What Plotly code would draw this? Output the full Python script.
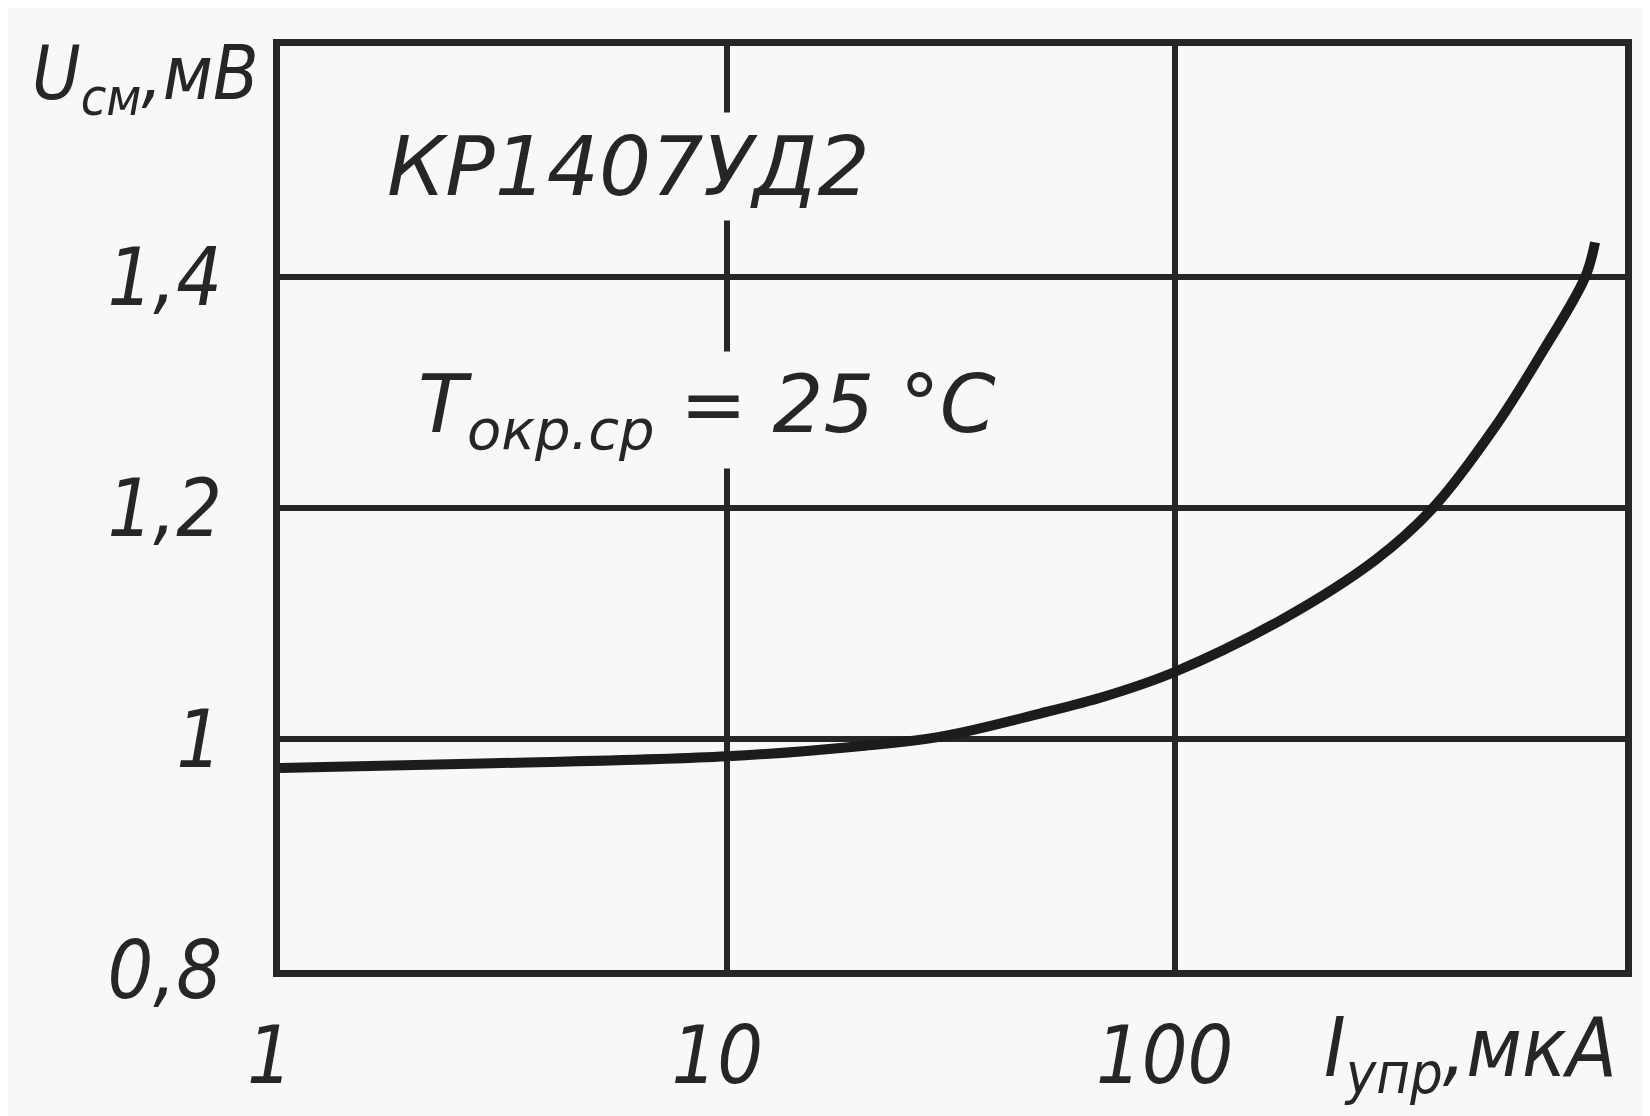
import plotly.graph_objects as go

# Offset voltage vs. control current, KP1407UD2 at 25 °C
current_ua = [1, 3, 10, 20, 30, 50, 70, 100, 173, 281, 378, 520, 664, 828, 871]
offset_mv = [0.975, 0.979, 0.985, 0.994, 1.002, 1.022, 1.037, 1.058, 1.103, 1.155, 1.2, 1.27, 1.335, 1.40, 1.43]

x_ticks = [1, 10, 100]
x_ticktext = ["1", "10", "100"]
y_ticks = [0.8, 1.0, 1.2, 1.4]
y_ticktext = ["0,8", "1", "1,2", "1,4"]

INK = "#262626"
BG = "#f8f8f8"
FONT = "DejaVu Sans Condensed, DejaVu Sans, sans-serif"
WIDE = "DejaVu Sans, sans-serif"

fig = go.Figure()

fig.add_trace(go.Scatter(
    x=current_ua,
    y=offset_mv,
    mode="lines",
    line=dict(color="#1c1c1c", width=10, shape="spline", smoothing=1.0),
    showlegend=False,
    hoverinfo="skip"
))

# in-plot labels, the box breaks the grid like in the print
fig.add_annotation(
    x=0.78, y=1.496, xref="x", yref="y",
    xanchor="center", yanchor="middle",
    text="КР1407УД2",
    showarrow=False,
    font=dict(family=WIDE, size=82, color=INK, style="italic"),
    bgcolor=BG, borderpad=6
)
fig.add_annotation(
    x=0.955, y=1.285, xref="x", yref="y",
    xanchor="center", yanchor="middle",
    text="Т<sub>окр.ср</sub> = 25 °С",
    showarrow=False,
    font=dict(family=WIDE, size=80, color=INK, style="italic"),
    bgcolor=BG, borderpad=6
)

# axis titles
fig.add_annotation(
    x=-0.10, y=0.965, xref="paper", yref="paper",
    xanchor="center", yanchor="middle",
    text="U<sub>см</sub>,мВ",
    showarrow=False,
    font=dict(family=FONT, size=74, color=INK, style="italic")
)
fig.add_annotation(
    x=0.885, y=-0.09, xref="paper", yref="paper",
    xanchor="center", yanchor="middle",
    text="I<sub>упр</sub>,мкА",
    showarrow=False,
    font=dict(family=FONT, size=82, color=INK, style="italic")
)

axis_common = dict(
    showline=True, mirror=True, linecolor=INK, linewidth=7,
    showgrid=True, gridcolor=INK, gridwidth=6,
    zeroline=False, ticks="",
    tickfont=dict(family=FONT, size=80, color=INK, style="italic"),
)

# the page adds an 8px body margin, so the figure is 8px smaller each way
fig.update_layout(
    width=1642, height=1108,
    paper_bgcolor=BG, plot_bgcolor=BG,
    margin=dict(l=272, r=25, t=38, b=146),
    xaxis=dict(
        type="log", range=[0, 3.007],
        tickvals=x_ticks, ticktext=x_ticktext,
        ticklabelstandoff=10, ticklabelshift=-10,
        **axis_common
    ),
    yaxis=dict(
        range=[0.8, 1.6],
        tickvals=y_ticks, ticktext=y_ticktext,
        ticklabelstandoff=35,
        **axis_common
    ),
)

fig.write_html("out.html")
